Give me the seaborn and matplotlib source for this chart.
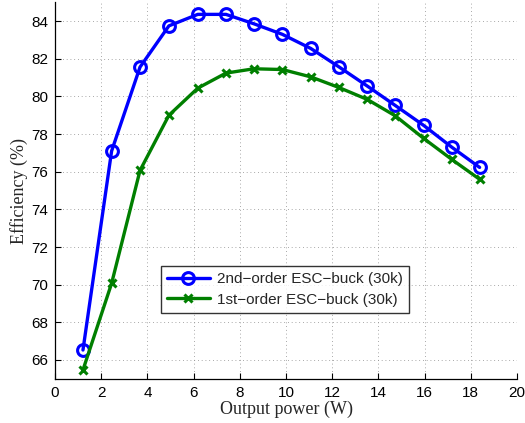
import matplotlib
matplotlib.use("Agg")
import matplotlib.pyplot as plt
import seaborn as sns
import pandas as pd

power_w = [1.21, 2.45, 3.68, 4.93, 6.18, 7.40, 8.61, 9.84, 11.07, 12.28, 13.52, 14.73, 15.96, 17.17, 18.38]
eff_2nd = [66.53, 77.10, 81.56, 83.75, 84.36, 84.36, 83.86, 83.30, 82.55, 81.58, 80.55, 79.52, 78.46, 77.31, 76.23]
eff_1st = [65.47, 70.07, 76.07, 79.00, 80.44, 81.24, 81.47, 81.43, 81.04, 80.48, 79.84, 78.97, 77.77, 76.66, 75.60]
series_names = ["2nd\u2212order ESC\u2212buck (30k)", "1st\u2212order ESC\u2212buck (30k)"]
x_ticks = [0, 2, 4, 6, 8, 10, 12, 14, 16, 18, 20]
y_ticks = [66, 68, 70, 72, 74, 76, 78, 80, 82, 84]

df = pd.concat([
    pd.DataFrame({"power": power_w, "eff": eff_2nd, "series": series_names[0]}),
    pd.DataFrame({"power": power_w, "eff": eff_1st, "series": series_names[1]}),
])

sns.set_style("white")
plt.rcParams["font.family"] = ["Liberation Sans", "DejaVu Sans"]

fig = plt.figure(figsize=(5.25, 4.23), dpi=100)
ax = fig.add_axes([0.1048, 0.1045, 0.88, 0.89])

sns.lineplot(data=df, x="power", y="eff", hue="series", style="series",
             palette={series_names[0]: "#0000ff", series_names[1]: "#007f00"},
             markers={series_names[0]: "o", series_names[1]: "X"},
             dashes=False, linewidth=2.4, ax=ax, legend=False)

lines = ax.get_lines()
lines[0].set_marker("o"); lines[0].set_markersize(8.5); lines[0].set_markerfacecolor("none")
lines[0].set_markeredgewidth(2.2); lines[0].set_markeredgecolor("#0000ff")
lines[1].set_marker("x"); lines[1].set_markersize(5.5); lines[1].set_markeredgewidth(2.2)
lines[1].set_markeredgecolor("#007f00")

ax.set_xlim(0, 20)
ax.set_ylim(65, 85)
ax.set_xticks(x_ticks)
ax.set_yticks(y_ticks)
ax.tick_params(direction="in", length=4, width=0.8, labelsize=11, colors="black", pad=5,
               left=True, bottom=True)
ax.grid(True, linestyle=(0, (1, 3.5)), color="#8c8c8c", linewidth=0.6)
for s in ["top", "right"]:
    ax.spines[s].set_visible(False)
for s in ["left", "bottom"]:
    ax.spines[s].set_color("black")
    ax.spines[s].set_linewidth(0.9)

ax.set_xlabel("Output power (W)", family=["Liberation Serif"], fontsize=13, labelpad=1)
ax.set_ylabel("Efficiency (%)", family=["Liberation Serif"], fontsize=13, labelpad=2)

leg = ax.legend(lines, series_names, loc="upper left", bbox_to_anchor=(0.229, 0.300),
                fontsize=11, frameon=True, fancybox=False, edgecolor="black",
                handlelength=2.8, borderpad=0.4, labelspacing=0.45, handletextpad=0.5,
                borderaxespad=0)
leg.get_frame().set_linewidth(1.0)

fig.savefig("out.png", dpi=100)
